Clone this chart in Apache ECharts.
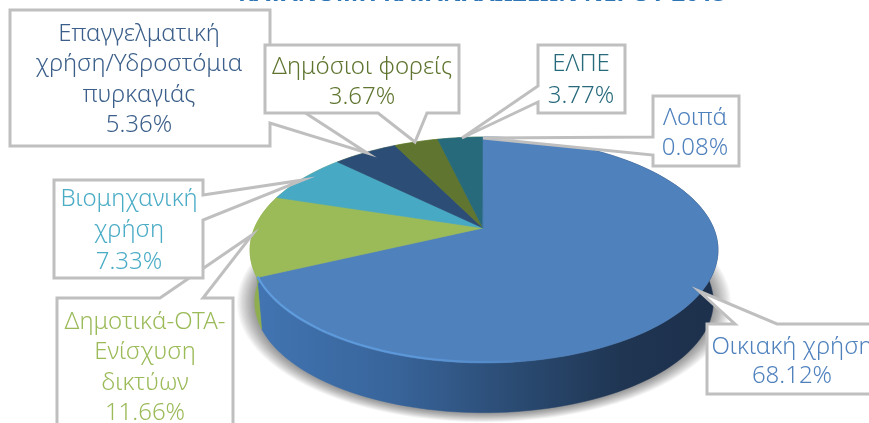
<!DOCTYPE html>
<html>
<head>
<meta charset="utf-8">
<title>Κατανομή κατανάλωσης</title>
<script src="https://cdn.jsdelivr.net/npm/echarts@6/dist/echarts.min.js"></script>
<style>
  html, body { margin: 0; padding: 0; background: #fff; overflow: hidden; }
  #chart { width: 869px; height: 423px; }
</style>
</head>
<body>
<div id="chart"></div>
<script>
// data
const titleText = "ΚΑΤΑΝΟΜΗ ΚΑΤΑΝΑΛΩΣΕΩΝ ΝΕΡΟΥ 2015";
const categories = ["Οικιακή χρήση", "Δημοτικά-ΟΤΑ-Ενίσχυση δικτύων", "Βιομηχανική χρήση", "Επαγγελματική χρήση/Υδροστόμια πυρκαγιάς", "Δημόσιοι φορείς", "ΕΛΠΕ", "Λοιπά"];
const shares = [68.12, 11.66, 7.33, 5.36, 3.67, 3.77, 0.08];

// slice look
const sliceColors = ["#4f81bd", "#9bbb59", "#48a9c5", "#2c4d75", "#5f7530", "#276a7c", "#4f81bd"];
const textColors = ["#4f81bd", "#9bbb59", "#4bacc6", "#3b5f8a", "#5f7530", "#276a7c", "#4f81bd"];
const FONT = '"Noto Sans", sans-serif';

// callout boxes, same order as categories
const callouts = [
  { box: [707, 324, 880, 394], tip: [699, 291], side: "top", notch: [735, 777], lines: ["Οικιακή χρήση", "68.12%"], cx: 792, y0: 347, step: 29 },
  { box: [57, 298, 233, 440], tip: [252, 235], side: "top", notch: [160, 203], lines: ["Δημοτικά-ΟΤΑ-", "Ενίσχυση", "δικτύων", "11.66%"], cx: 145, y0: 322, step: 30.5 },
  { box: [54, 180, 203, 278], tip: [303, 180], side: "right", notch: [195, 220], lines: ["Βιομηχανική", "χρήση", "7.33%"], cx: 129, y0: 199, step: 31.5 },
  { box: [10, 10, 270, 146], tip: [367, 153], side: "right", notch: [90, 123], lines: ["Επαγγελματική", "χρήση/Υδροστόμια", "πυρκαγιάς", "5.36%"], cx: 139, y0: 34, step: 30.5 },
  { box: [265, 45, 459, 113], tip: [415, 142], side: "bottom", notch: [378, 427], lines: ["Δημόσιοι φορείς", "3.67%"], cx: 362, y0: 67, step: 30 },
  { box: [538, 45, 625, 113], tip: [462, 138], side: "left", notch: [86, 102], lines: ["ΕΛΠΕ", "3.77%"], cx: 581, y0: 64, step: 32 },
  { box: [653, 96, 739, 166], tip: [483, 138], side: "left", notch: [137, 155], lines: ["Λοιπά", "0.08%"], cx: 695, y0: 118, step: 30 }
];

const total = shares.reduce((a, b) => a + b, 0);
const starts = [];
shares.reduce((sum, v, i) => { starts[i] = sum; return sum + v; }, 0);

// perspective view of a flat disc, clockwise from the top
const CX = 484, K = 229.5, PA = -64.3, PB = 228, PC = 0.1947;
const MIDY = 250, LOWER_SCALE = 0.98, DEPTH = 52;

function rimPoint(cum, lower) {
  const t = cum / total * Math.PI * 2;
  const u = Math.sin(t), v = Math.cos(t);
  const d = 1 + PC * v;
  let x = K * u / d;
  let y = (PA * v + PB) / d;
  if (lower) {
    x *= LOWER_SCALE;
    y = MIDY + (y - MIDY) * LOWER_SCALE + DEPTH;
  }
  return [CX + x, y];
}

function arc(from, to, lower) {
  const n = Math.max(2, Math.ceil((to - from) * 2));
  const pts = [];
  for (let j = 0; j <= n; j++) pts.push(rimPoint(from + (to - from) * j / n, lower));
  return pts;
}

const blueSide = {
  type: "linear", x: 260, y: 0, x2: 715, y2: 0, global: true,
  colorStops: [
    { offset: 0, color: "#4174b1" },
    { offset: 0.3, color: "#38649a" },
    { offset: 0.55, color: "#2b4c74" },
    { offset: 0.8, color: "#1f3552" },
    { offset: 1, color: "#1d304c" }
  ]
};
const bevel = {
  type: "linear", x: 258, y: 0, x2: 540, y2: 0, global: true,
  colorStops: [
    { offset: 0, color: "#5f9ee0" },
    { offset: 0.6, color: "#5b96d8" },
    { offset: 1, color: "#4f81bd" }
  ]
};

function renderSide(params, api) {
  const i = api.value(0);
  const from = starts[i], to = from + shares[i];
  const pts = arc(from, to, false).concat(arc(from, to, true).reverse());
  return {
    type: "polygon",
    shape: { points: pts },
    style: { fill: i === 0 ? blueSide : "#8fae50", stroke: i === 0 ? blueSide : "#8fae50", lineWidth: 0.5 }
  };
}

function renderTop(params, api) {
  const i = api.value(0);
  const from = starts[i], to = from + shares[i];
  const pts = [[CX - 1, PB]].concat(arc(from, to, false));
  return {
    type: "polygon",
    shape: { points: pts },
    style: { fill: sliceColors[i], stroke: sliceColors[i], lineWidth: 0.6 }
  };
}

function calloutPath(c) {
  const [x0, y0, x1, y1] = c.box;
  const [a, b] = c.notch;
  if (c.side === "top") return [[x0, y0], [a, y0], c.tip, [b, y0], [x1, y0], [x1, y1], [x0, y1]];
  if (c.side === "right") return [[x0, y0], [x1, y0], [x1, a], c.tip, [x1, b], [x1, y1], [x0, y1]];
  if (c.side === "bottom") return [[x0, y0], [x1, y0], [x1, y1], [b, y1], c.tip, [a, y1], [x0, y1]];
  return [[x0, y0], [x1, y0], [x1, y1], [x0, y1], [x0, b], c.tip, [x0, a]];
}

function renderCallout(params, api) {
  const i = api.value(0);
  const c = callouts[i];
  const children = [{
    type: "polygon",
    shape: { points: calloutPath(c) },
    style: { fill: "#fff", stroke: "#bfbfbf", lineWidth: 3 }
  }];
  c.lines.forEach((line, j) => {
    children.push({
      type: "text",
      style: {
        x: c.cx, y: c.y0 + j * c.step, text: line,
        fill: textColors[i], font: "300 24px " + FONT,
        align: "center", verticalAlign: "middle"
      }
    });
  });
  return { type: "group", children };
}

// soft shadow round the foot of the disc, ring on ring
function renderShadow() {
  const rings = [];
  const foot = arc(0, total, true);
  const midY = MIDY + DEPTH;
  for (let k = 14; k >= 1; k--) {
    const s = 1 + k * 0.0055;
    rings.push({
      type: "polygon",
      shape: { points: foot.map((p) => [CX + (p[0] - CX) * s, midY + (p[1] - midY) * s + 1]) },
      style: { fill: "rgba(0,0,0,0.03)" }
    });
  }
  return { type: "group", children: rings };
}

const sliceData = shares.map((v, i) => ({ name: categories[i], value: [i, v] }));

const myChart = echarts.init(document.getElementById("chart"), null, { renderer: "canvas" });
myChart.setOption({
  animation: false,
  backgroundColor: "#fff",
  title: {
    text: titleText,
    left: 238,
    top: -18,
    padding: 0,
    textStyle: { color: "#2e75b6", fontFamily: FONT, fontSize: 24, fontWeight: "bold" }
  },
  series: [
    { type: "custom", coordinateSystem: "none", silent: true, z: 1, data: [[0]], renderItem: renderShadow },
    { type: "custom", coordinateSystem: "none", silent: true, z: 2, data: sliceData, renderItem: renderSide },
    { type: "custom", coordinateSystem: "none", silent: true, z: 3, data: sliceData, renderItem: renderTop },
    {
      // light bevel along the front edge
      type: "custom",
      coordinateSystem: "none",
      silent: true,
      z: 4,
      data: [[0]],
      renderItem() {
        const edge = arc(48, starts[0] + shares[0], false).map((p) => [p[0] + 0.5, p[1] - 1]);
        return { type: "polyline", shape: { points: edge }, style: { fill: "none", stroke: bevel, lineWidth: 2 } };
      }
    },
    { type: "custom", coordinateSystem: "none", silent: true, z: 5, data: sliceData, renderItem: renderCallout }
  ]
});
</script>
</body>
</html>
